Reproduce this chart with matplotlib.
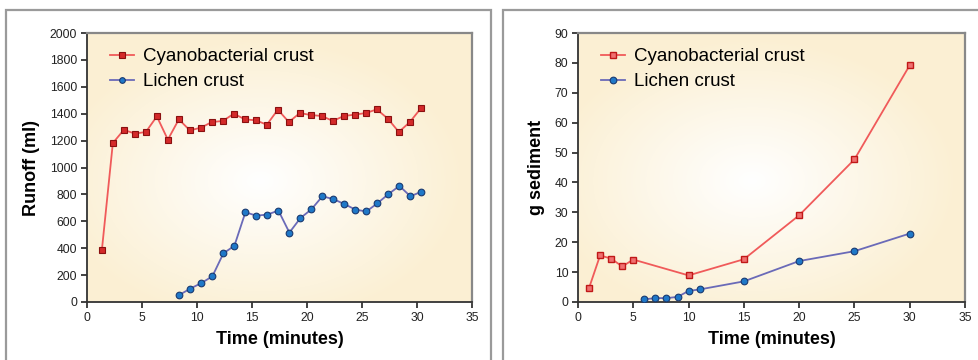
import numpy as np
import matplotlib
matplotlib.use("Agg")
import matplotlib.pyplot as plt
from matplotlib.patches import Rectangle

plt.rcParams['font.family'] = ['Liberation Sans', 'DejaVu Sans']

# ---- Data: runoff (left panel) ----
runoff_time_cyano = [1.35, 2.35, 3.35, 4.35, 5.35, 6.35, 7.35, 8.35, 9.35, 10.35,
                     11.35, 12.35, 13.35, 14.35, 15.35, 16.35, 17.35, 18.35, 19.35, 20.35,
                     21.35, 22.35, 23.35, 24.35, 25.35, 26.35, 27.35, 28.35, 29.35, 30.4]
runoff_cyano = [384, 1182, 1280, 1252, 1264, 1380, 1207, 1358, 1276, 1296,
                1338, 1346, 1400, 1358, 1351, 1318, 1430, 1338, 1405, 1390,
                1383, 1346, 1383, 1393, 1405, 1432, 1363, 1264, 1338, 1445]
runoff_time_lichen = [8.4, 9.4, 10.4, 11.4, 12.4, 13.4, 14.4, 15.4, 16.4, 17.4,
                      18.4, 19.4, 20.4, 21.4, 22.4, 23.4, 24.4, 25.4, 26.4, 27.4,
                      28.4, 29.4, 30.4]
runoff_lichen = [53, 100, 141, 191, 362, 418, 667, 642, 650, 680,
                 516, 624, 689, 786, 765, 728, 687, 673, 734, 802,
                 863, 786, 820]

# ---- Data: sediment (right panel) ----
sed_time_cyano = [1, 2, 3, 4, 5, 10, 15, 20, 25, 30]
sed_cyano = [4.7, 15.6, 14.5, 11.9, 14.2, 8.9, 14.3, 29.0, 47.7, 79.2]
sed_time_lichen = [6, 7, 8, 9, 10, 11, 15, 20, 25, 30]
sed_lichen = [0.9, 1.3, 1.3, 1.7, 3.7, 4.2, 6.9, 13.7, 17.0, 22.9]

series_names = ["Cyanobacterial crust", "Lichen crust"]
x_label = "Time (minutes)"
y_labels = ["Runoff (ml)", "g sediment"]

fig = plt.figure(figsize=(9.79, 3.6), dpi=100)
fig.patch.set_facecolor('white')

W, H = 979.0, 360.0
def fx(px):
    return px / W
def fy(py):
    return 1 - py / H

# panel borders
for x0, x1 in [(6, 491), (503, 990)]:
    fig.patches.append(Rectangle((fx(x0), fy(370)), fx(x1) - fx(x0), fy(10) - fy(370),
                                 transform=fig.transFigure, fill=False,
                                 edgecolor='#9a9a9a', linewidth=1.6, zorder=0))

# gradient background image
ny, nx = 200, 300
yy, xx = np.mgrid[0:1:ny * 1j, 0:1:nx * 1j]
r = np.sqrt(((xx - 0.45) / 0.75) ** 2 + ((yy - 0.55) / 0.75) ** 2)
t = np.clip(r / 0.7, 0, 1) ** 1.0
c_in = np.array([1.0, 1.0, 1.0])
c_out = np.array([0.985, 0.94, 0.83])
img = c_in[None, None, :] * (1 - t[..., None]) + c_out[None, None, :] * t[..., None]

def style_axes(ax, ylim, yticks, ylabel):
    ax.imshow(img, extent=(0, 1, 0, 1), transform=ax.transAxes, aspect='auto',
              zorder=0, interpolation='bilinear')
    ax.set_xlim(0, 35)
    ax.set_ylim(*ylim)
    ax.set_xticks(range(0, 36, 5))
    ax.set_yticks(yticks)
    ax.tick_params(direction='out', length=4, width=1.2, labelsize=8.7,
                   colors='#222222', pad=3)
    for s in ['left', 'bottom']:
        ax.spines[s].set_color('#333333')
        ax.spines[s].set_linewidth(1.3)
    for s in ['top', 'right']:
        ax.spines[s].set_color('#888888')
        ax.spines[s].set_linewidth(1.6)
    ax.set_xlabel(x_label, fontsize=13, fontweight='bold', labelpad=5)
    ax.set_ylabel(ylabel, fontsize=13, fontweight='bold', labelpad=7)

red_line = '#f05a5a'
red_face = '#d42a2a'
red_edge = '#8a1010'
blue_line = '#6a6ab8'
blue_face = '#1f78c8'
blue_edge = '#1a3a70'

leg_kw = dict(loc='upper left', frameon=False, fontsize=13.5, handlelength=1.3,
              handletextpad=0.45, borderaxespad=0.2, labelspacing=0.42)

# left panel
ax1 = fig.add_axes([fx(87), fy(302), fx(472) - fx(87), fy(33) - fy(302)])
style_axes(ax1, (0, 2000), range(0, 2001, 200), y_labels[0])
ax1.plot(runoff_time_cyano, runoff_cyano, color=red_line, lw=1.3, marker='s', ms=4.6,
         mfc=red_face, mec=red_edge, mew=0.8, label=series_names[0], zorder=3)
ax1.plot(runoff_time_lichen, runoff_lichen, color=blue_line, lw=1.3, marker='o', ms=4.8,
         mfc=blue_face, mec=blue_edge, mew=0.8, label=series_names[1], zorder=3)
ax1.legend(bbox_to_anchor=(0.03, 0.985), markerscale=0.85, **leg_kw)

# right panel
ax2 = fig.add_axes([fx(578), fy(302), fx(965) - fx(578), fy(33) - fy(302)])
style_axes(ax2, (0, 90), range(0, 91, 10), y_labels[1])
ax2.plot(sed_time_cyano, sed_cyano, color=red_line, lw=1.3, marker='s', ms=4.6,
         mfc='#f07070', mec='#c01818', mew=1.0, label=series_names[0], zorder=3)
ax2.plot(sed_time_lichen, sed_lichen, color=blue_line, lw=1.3, marker='o', ms=4.8,
         mfc=blue_face, mec=blue_edge, mew=0.8, label=series_names[1], zorder=3)
ax2.legend(bbox_to_anchor=(0.03, 0.985), markerscale=1.0, **leg_kw)

fig.savefig('out.png', dpi=100, facecolor='white')
